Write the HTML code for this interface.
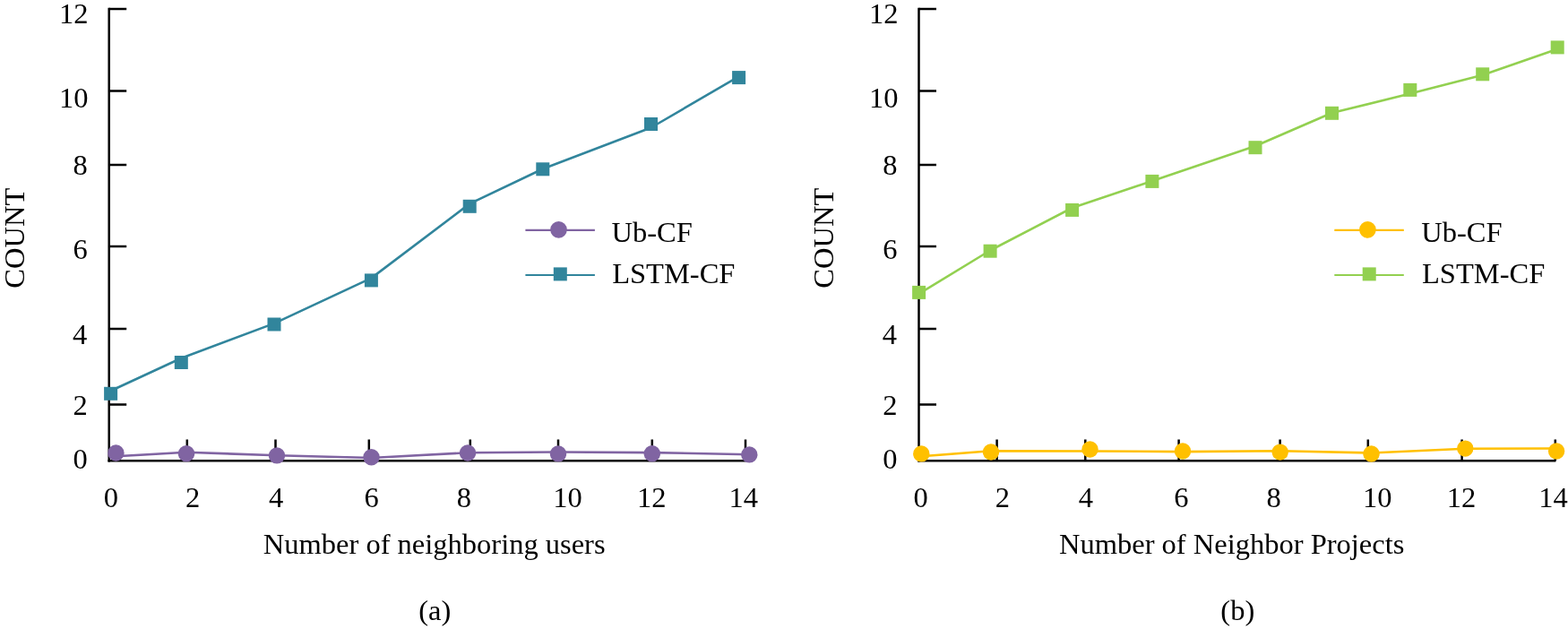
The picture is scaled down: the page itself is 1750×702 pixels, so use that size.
<!DOCTYPE html>
<html><head><meta charset="utf-8"><title>Chart</title>
<style>
html,body{margin:0;padding:0;background:#fff;}
body{width:1750px;height:702px;overflow:hidden;}
svg{display:block;}
svg text{font-family:'Liberation Serif','Times New Roman',serif;font-size:32.5px;fill:#000;}
</style></head>
<body>
<svg width="1750" height="702" viewBox="0 0 1750 702">
<rect width="1750" height="702" fill="#fff"/>
<line x1="121.70" y1="8.8" x2="121.70" y2="515.55" stroke="#000" stroke-width="2.5"/>
<line x1="120.45" y1="514.30" x2="832.60" y2="514.30" stroke="#000" stroke-width="2.5"/>
<line x1="121.70" y1="10" x2="141.20" y2="10" stroke="#000" stroke-width="2.5"/>
<line x1="121.70" y1="101.5" x2="141.20" y2="101.5" stroke="#000" stroke-width="2.5"/>
<line x1="121.70" y1="184" x2="141.20" y2="184" stroke="#000" stroke-width="2.5"/>
<line x1="121.70" y1="275" x2="141.20" y2="275" stroke="#000" stroke-width="2.5"/>
<line x1="121.70" y1="367" x2="141.20" y2="367" stroke="#000" stroke-width="2.5"/>
<line x1="121.70" y1="451.5" x2="141.20" y2="451.5" stroke="#000" stroke-width="2.5"/>
<line x1="208.80" y1="490.5" x2="208.80" y2="514.3" stroke="#000" stroke-width="2.5"/>
<line x1="307.50" y1="490.5" x2="307.50" y2="514.3" stroke="#000" stroke-width="2.5"/>
<line x1="411.80" y1="490.5" x2="411.80" y2="514.3" stroke="#000" stroke-width="2.5"/>
<line x1="524.80" y1="490.5" x2="524.80" y2="514.3" stroke="#000" stroke-width="2.5"/>
<line x1="623.00" y1="490.5" x2="623.00" y2="514.3" stroke="#000" stroke-width="2.5"/>
<line x1="727.80" y1="490.5" x2="727.80" y2="514.3" stroke="#000" stroke-width="2.5"/>
<line x1="832.00" y1="490.5" x2="832.00" y2="514.3" stroke="#000" stroke-width="2.5"/>
<text x="98.60" y="26.2" text-anchor="end">12</text>
<text x="98.60" y="120.2" text-anchor="end">10</text>
<text x="97.70" y="194.5" text-anchor="end">8</text>
<text x="97.80" y="289.4" text-anchor="end">6</text>
<text x="97.30" y="384.2" text-anchor="end">4</text>
<text x="97.80" y="463" text-anchor="end">2</text>
<text x="97.80" y="522.8" text-anchor="end">0</text>
<text x="123.90" y="566.2" text-anchor="middle">0</text>
<text x="215.00" y="566.2" text-anchor="middle">2</text>
<text x="308.00" y="566.2" text-anchor="middle">4</text>
<text x="414.50" y="566.2" text-anchor="middle">6</text>
<text x="517.90" y="566.2" text-anchor="middle">8</text>
<text x="633.40" y="566.2" text-anchor="middle">10</text>
<text x="727.30" y="566.2" text-anchor="middle">12</text>
<text x="829.70" y="566.2" text-anchor="middle">14</text>
<text transform="translate(27.00,265.7) rotate(-90)" text-anchor="middle">COUNT</text>
<line x1="1025.50" y1="8.8" x2="1025.50" y2="515.55" stroke="#000" stroke-width="2.5"/>
<line x1="1024.25" y1="514.30" x2="1736.40" y2="514.30" stroke="#000" stroke-width="2.5"/>
<line x1="1025.50" y1="10" x2="1045.00" y2="10" stroke="#000" stroke-width="2.5"/>
<line x1="1025.50" y1="101.5" x2="1045.00" y2="101.5" stroke="#000" stroke-width="2.5"/>
<line x1="1025.50" y1="184" x2="1045.00" y2="184" stroke="#000" stroke-width="2.5"/>
<line x1="1025.50" y1="275" x2="1045.00" y2="275" stroke="#000" stroke-width="2.5"/>
<line x1="1025.50" y1="367" x2="1045.00" y2="367" stroke="#000" stroke-width="2.5"/>
<line x1="1025.50" y1="451.5" x2="1045.00" y2="451.5" stroke="#000" stroke-width="2.5"/>
<line x1="1112.60" y1="490.5" x2="1112.60" y2="514.3" stroke="#000" stroke-width="2.5"/>
<line x1="1211.30" y1="490.5" x2="1211.30" y2="514.3" stroke="#000" stroke-width="2.5"/>
<line x1="1315.60" y1="490.5" x2="1315.60" y2="514.3" stroke="#000" stroke-width="2.5"/>
<line x1="1428.60" y1="490.5" x2="1428.60" y2="514.3" stroke="#000" stroke-width="2.5"/>
<line x1="1526.80" y1="490.5" x2="1526.80" y2="514.3" stroke="#000" stroke-width="2.5"/>
<line x1="1631.60" y1="490.5" x2="1631.60" y2="514.3" stroke="#000" stroke-width="2.5"/>
<line x1="1735.80" y1="490.5" x2="1735.80" y2="514.3" stroke="#000" stroke-width="2.5"/>
<text x="1002.40" y="26.2" text-anchor="end">12</text>
<text x="1002.40" y="120.2" text-anchor="end">10</text>
<text x="1001.50" y="194.5" text-anchor="end">8</text>
<text x="1001.60" y="289.4" text-anchor="end">6</text>
<text x="1001.10" y="384.2" text-anchor="end">4</text>
<text x="1001.60" y="463" text-anchor="end">2</text>
<text x="1001.60" y="522.8" text-anchor="end">0</text>
<text x="1027.70" y="566.2" text-anchor="middle">0</text>
<text x="1118.80" y="566.2" text-anchor="middle">2</text>
<text x="1211.80" y="566.2" text-anchor="middle">4</text>
<text x="1318.30" y="566.2" text-anchor="middle">6</text>
<text x="1421.70" y="566.2" text-anchor="middle">8</text>
<text x="1537.20" y="566.2" text-anchor="middle">10</text>
<text x="1631.10" y="566.2" text-anchor="middle">12</text>
<text x="1733.50" y="566.2" text-anchor="middle">14</text>
<text transform="translate(930.00,265.7) rotate(-90)" text-anchor="middle">COUNT</text>
<polyline points="123.5,436.3 202.3,399.7 306.2,360.9 414.4,310.4 524.2,227.4 605.8,188.5 726.5,142.5 824.6,85.4" fill="none" stroke="#31859c" stroke-width="2.6" stroke-linejoin="round"/>
<rect x="116.10" y="431.80" width="15" height="15" fill="#31859c"/>
<rect x="194.80" y="397.00" width="15" height="15" fill="#31859c"/>
<rect x="298.50" y="354.50" width="15" height="15" fill="#31859c"/>
<rect x="406.90" y="305.40" width="15" height="15" fill="#31859c"/>
<rect x="516.70" y="222.80" width="15" height="15" fill="#31859c"/>
<rect x="598.30" y="181.30" width="15" height="15" fill="#31859c"/>
<rect x="719.00" y="131.00" width="15" height="15" fill="#31859c"/>
<rect x="817.10" y="79.10" width="15" height="15" fill="#31859c"/>
<polyline points="129.4,509.3 208,504.8 309,508.2 414.5,511 522,505.2 623,504.5 727.8,505.1 836.3,507.2" fill="none" stroke="#8064a2" stroke-width="2.6" stroke-linejoin="round"/>
<circle cx="129.4" cy="505.5" r="9.2" fill="#8064a2"/>
<circle cx="208" cy="506.3" r="9.2" fill="#8064a2"/>
<circle cx="309" cy="508.4" r="9.2" fill="#8064a2"/>
<circle cx="414.5" cy="510.3" r="9.2" fill="#8064a2"/>
<circle cx="522" cy="505.5" r="9.2" fill="#8064a2"/>
<circle cx="623" cy="506.4" r="9.2" fill="#8064a2"/>
<circle cx="727.8" cy="506.3" r="9.2" fill="#8064a2"/>
<circle cx="836.3" cy="507.4" r="9.2" fill="#8064a2"/>
<polyline points="1025.6,327.9 1105.1,279.5 1196.6,232 1285.9,202 1401,163 1486.5,126 1573.8,104.6 1654.7,83.7 1738.2,54.7" fill="none" stroke="#92d050" stroke-width="2.6" stroke-linejoin="round"/>
<rect x="1018.10" y="318.90" width="15" height="15" fill="#92d050"/>
<rect x="1097.60" y="272.70" width="15" height="15" fill="#92d050"/>
<rect x="1189.10" y="226.90" width="15" height="15" fill="#92d050"/>
<rect x="1278.40" y="194.90" width="15" height="15" fill="#92d050"/>
<rect x="1393.50" y="157.20" width="15" height="15" fill="#92d050"/>
<rect x="1479.00" y="118.80" width="15" height="15" fill="#92d050"/>
<rect x="1566.30" y="92.90" width="15" height="15" fill="#92d050"/>
<rect x="1647.20" y="75.30" width="15" height="15" fill="#92d050"/>
<rect x="1730.70" y="45.40" width="15" height="15" fill="#92d050"/>
<polyline points="1028.3,509.3 1106,503.3 1216.5,503.5 1320,504.1 1428.7,503.2 1530.5,505.5 1635.3,500.7 1737.1,500.5" fill="none" stroke="#ffc000" stroke-width="2.6" stroke-linejoin="round"/>
<circle cx="1028.3" cy="506.4" r="9.2" fill="#ffc000"/>
<circle cx="1106" cy="504.5" r="9.2" fill="#ffc000"/>
<circle cx="1216.5" cy="501.5" r="9.2" fill="#ffc000"/>
<circle cx="1320" cy="503.5" r="9.2" fill="#ffc000"/>
<circle cx="1428.7" cy="504.6" r="9.2" fill="#ffc000"/>
<circle cx="1530.5" cy="506.5" r="9.2" fill="#ffc000"/>
<circle cx="1635.3" cy="500.6" r="9.2" fill="#ffc000"/>
<circle cx="1737.1" cy="503.5" r="9.2" fill="#ffc000"/>
<line x1="586.40" y1="256.8" x2="663.90" y2="256.8" stroke="#8064a2" stroke-width="2.2"/>
<circle cx="623.50" cy="256.4" r="9.3" fill="#8064a2"/>
<line x1="586.40" y1="307" x2="663.90" y2="307" stroke="#31859c" stroke-width="2.2"/>
<rect x="617.80" y="298.40" width="15" height="15" fill="#31859c"/>
<text x="682.50" y="269.6">Ub-CF</text>
<text x="683.20" y="316">LSTM-CF</text>
<line x1="1489.30" y1="256.8" x2="1566.80" y2="256.8" stroke="#ffc000" stroke-width="2.2"/>
<circle cx="1526.40" cy="256.4" r="9.3" fill="#ffc000"/>
<line x1="1489.30" y1="307" x2="1566.80" y2="307" stroke="#92d050" stroke-width="2.2"/>
<rect x="1520.70" y="298.40" width="15" height="15" fill="#92d050"/>
<text x="1586.30" y="269.6">Ub-CF</text>
<text x="1587.00" y="316">LSTM-CF</text>
<text x="484.7" y="618.2" text-anchor="middle">Number of neighboring users</text>
<text x="1374.7" y="618.2" text-anchor="middle">Number of Neighbor Projects</text>
<text x="485.2" y="692.4" text-anchor="middle">(a)</text>
<text x="1381.3" y="692.4" text-anchor="middle">(b)</text>
</svg>
</body></html>
